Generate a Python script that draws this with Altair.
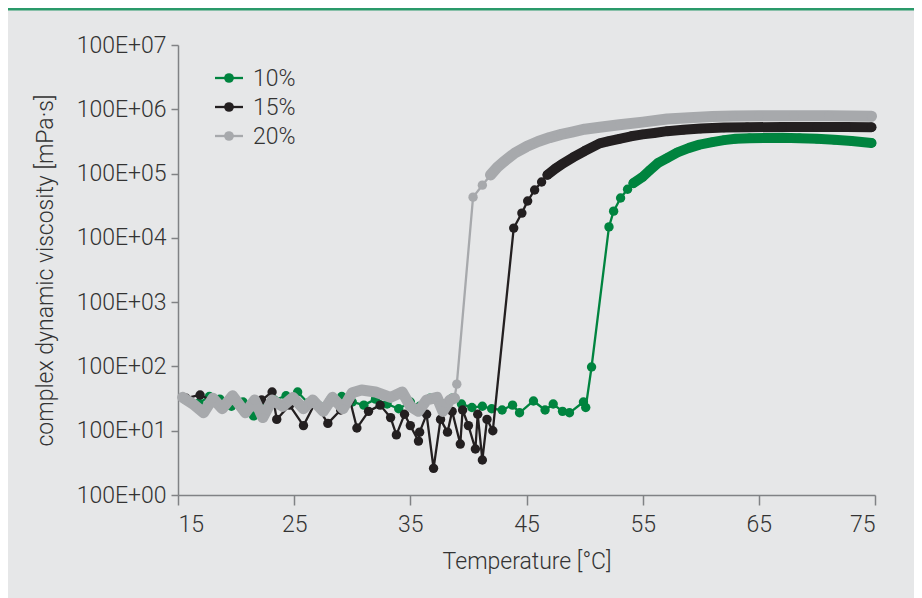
import altair as alt
import pandas as pd

series_names = ["10%", "15%", "20%"]
series_colors = ["#00843f", "#231f20", "#a7a9ac"]

# ---- 10% (green) ----
g_noise_T = [15.7, 16.8, 17.7, 18.6, 19.6, 20.6, 21.5, 22.4, 23.3, 24.3, 25.3, 26.2, 27.2,
             28.1, 29.1, 30.0, 31.0, 32.0, 33.0, 34.0, 35.0, 35.8, 36.7, 37.6, 38.6, 39.4,
             40.3, 41.2, 42.0, 42.9, 43.8, 44.4, 45.6, 46.6, 47.3, 48.1, 48.7, 49.9, 50.1]
g_noise_v = [30, 27, 34, 31, 24, 28, 17, 22, 30, 35, 40, 27, 24,
             30, 34, 28, 25, 31, 26, 22, 28, 24, 32, 27, 32, 26,
             23, 24, 22, 21, 25, 19, 29, 21, 26, 20, 19, 28, 23]
g_rise_T = [50.6, 52.1, 52.5, 53.1, 53.7]
g_rise_v = [98, 14800, 26000, 41700, 57000]
g_plat_T = [54.2, 55.0, 55.6, 56.3, 57.1, 58.0, 59.0, 59.9, 61.0, 62.0, 63.0, 64.2,
            65.5, 67.0, 68.5, 70.0, 71.5, 73.0, 74.7]
g_plat_v = [71000, 89000, 112000, 145000, 174000, 214000, 251000, 282000, 309000, 331000,
            347000, 355000, 359000, 360000, 355000, 347000, 335000, 320000, 299000]

# ---- 15% (black) ----
k_noise_T = [15.7, 16.9, 18.2, 19.7, 21.0, 22.2, 23.1, 23.5, 24.6, 25.8, 26.8, 27.9, 29.0,
             29.8, 30.4, 31.4, 32.4, 33.3, 33.8, 34.5, 35.0, 35.7, 35.8, 36.4, 37.0, 37.6,
             38.2, 38.6, 39.3, 39.5, 40.0, 40.6, 40.8, 41.2, 41.6, 42.1]
k_noise_v = [32, 36, 28, 30, 23, 30, 40, 15, 25, 12, 27, 13, 21,
             30, 11, 20, 25, 16, 8.6, 18, 12, 6.9, 9.5, 18, 2.6, 15,
             9.5, 20, 6.2, 21, 12, 5.2, 18, 3.5, 15, 10]
k_rise_T = [43.9, 44.6, 45.1, 45.7, 46.3]
k_rise_v = [14200, 24300, 37400, 55500, 74000]
k_plat_T = [46.8, 47.5, 48.0, 49.0, 50.0, 51.3, 52.0, 53.0, 54.0, 55.0, 56.0, 57.1, 58.5,
            60.0, 62.0, 64.0, 67.0, 70.0, 72.5, 74.7]
k_plat_v = [95500, 120000, 138000, 178000, 224000, 295000, 316000, 347000, 380000, 407000,
            427000, 457000, 479000, 501000, 519000, 525000, 531000, 531000, 531000, 525000]

# ---- 20% (grey) ----
s_noise_T = [15.4, 16.3, 17.2, 18.0, 18.8, 19.7, 20.8, 21.6, 22.3, 23.1, 24.0, 24.9, 25.8,
             26.6, 27.5, 28.3, 29.2, 30.0, 30.8, 32.0, 33.3, 34.3, 35.0, 35.7, 36.4, 37.3,
             37.8, 38.4, 38.8]
s_noise_v = [33, 26, 19, 32, 22, 35, 19, 30, 16, 30, 24, 33, 22,
             30, 20, 33, 22, 39, 43, 40, 33, 40, 24, 20, 30, 33,
             20, 30, 32]
s_rise_T = [39.0, 40.4, 41.2]
s_rise_v = [53, 43000, 66000]
s_plat_T = [41.9, 42.5, 43.0, 44.0, 45.0, 46.0, 47.0, 48.0, 49.0, 50.0, 51.3, 53.0, 55.0,
            57.1, 59.0, 61.0, 62.8, 65.0, 68.0, 71.0, 74.7]
s_plat_v = [95000, 126000, 151000, 209000, 263000, 316000, 363000, 407000, 447000, 490000,
            525000, 575000, 631000, 708000, 741000, 769000, 785000, 794000, 794000, 790000,
            780000]

x_ticks = [15, 25, 35, 45, 55, 65, 75]
y_ticks = [1, 10, 100, 1000, 10000, 100000, 1000000, 10000000]

rows = []
def add(series, seg, dense, Ts, Vs):
    for t, v in zip(Ts, Vs):
        rows.append({"series": series, "seg": series + "-" + seg,
                     "dense": dense, "T": t, "v": v})

add("10%", "noise", False, g_noise_T, g_noise_v)
add("10%", "rise", False, g_rise_T, g_rise_v)
add("10%", "plat", True, g_plat_T, g_plat_v)
add("15%", "noise", False, k_noise_T, k_noise_v)
add("15%", "rise", False, k_rise_T, k_rise_v)
add("15%", "plat", True, k_plat_T, k_plat_v)
add("20%", "noise", True, s_noise_T, s_noise_v)
add("20%", "rise", False, s_rise_T, s_rise_v)
add("20%", "plat", True, s_plat_T, s_plat_v)
df = pd.DataFrame(rows)

FONT = "Roboto"
FS = 23
base = alt.Chart(df)

xenc = alt.X("T:Q", scale=alt.Scale(domain=[15, 75], nice=False, zero=False),
             axis=alt.Axis(values=x_ticks, title="Temperature [°C]", grid=False,
                           tickSize=10, labelPadding=8, titlePadding=14, format="d"))
yenc = alt.Y("v:Q", scale=alt.Scale(type="log", domain=[1, 10000000], nice=False),
             axis=alt.Axis(values=y_ticks, title="complex dynamic viscosity [mPa·s]", grid=False,
                           tickSize=7, labelPadding=5, titlePadding=19,
                           labelExpr="'100E+0' + round(log(datum.value) / LN10)"))
color_scale = alt.Scale(domain=series_names, range=series_colors)
col_enc = alt.Color("series:N", scale=color_scale, legend=None)

layers = []
top_line = alt.Chart(pd.DataFrame({"a": [0]})).mark_rule(color="#2a9a6a", strokeWidth=3).encode(
    x=alt.value(-170), x2=alt.value(736), y=alt.value(-36))
layers.append(top_line)

for s in series_names:
    sub = base.transform_filter(alt.datum.series == s)
    thin = sub.mark_line(strokeWidth=2.3, strokeJoin="round").encode(x=xenc, y=yenc, color=col_enc)
    thick = sub.transform_filter(alt.datum.dense == True).mark_line(
        strokeWidth=11 if s == "20%" else 10, strokeCap="round", strokeJoin="round").encode(
        x=xenc, y=yenc, color=col_enc, detail="seg:N")
    pts = sub.mark_circle(size=88, opacity=1).encode(x=xenc, y=yenc, color=col_enc)
    layers += [thin, thick, pts]

main = alt.layer(*layers)

# legend built from the series names (row index drives the vertical placement)
leg_df = pd.DataFrame({"series": series_names, "row": [0, 1, 2]})
leg_y = alt.Y("row:Q", scale=alt.Scale(domain=[0, 2], range=[33, 91], nice=False, zero=False),
              axis=None)
leg_base = alt.Chart(leg_df)
leg_line = leg_base.mark_rule(strokeWidth=2.3).encode(
    y=leg_y, x=alt.value(37), x2=alt.value(65), color=col_enc)
leg_pt = leg_base.mark_circle(size=95, opacity=1).encode(y=leg_y, x=alt.value(51), color=col_enc)
leg_txt = leg_base.mark_text(align="left", baseline="middle", font=FONT, fontSize=FS,
                             fontWeight=300, color="#333333", dy=1).encode(
    y=leg_y, x=alt.value(75), text="series:N")
legend = alt.layer(leg_line, leg_pt, leg_txt)

chart = alt.layer(main, legend).resolve_scale(y="independent").properties(
    width=697, height=450,
    padding={"left": 170, "top": 37, "right": 39, "bottom": 103},
    autosize=alt.AutoSizeParams(type="none"),
    background="#e6e7e8",
).configure_view(stroke="transparent").configure_axis(
    domainColor="#808285", domainWidth=1.5, tickColor="#808285", tickWidth=1.5,
    labelFont=FONT, labelFontSize=FS, labelFontWeight=300, labelColor="#333333",
    titleFont=FONT, titleFontSize=FS, titleFontWeight=300, titleColor="#333333",
)

chart.save("out.html", embed_options={"renderer": "svg", "actions": False})
